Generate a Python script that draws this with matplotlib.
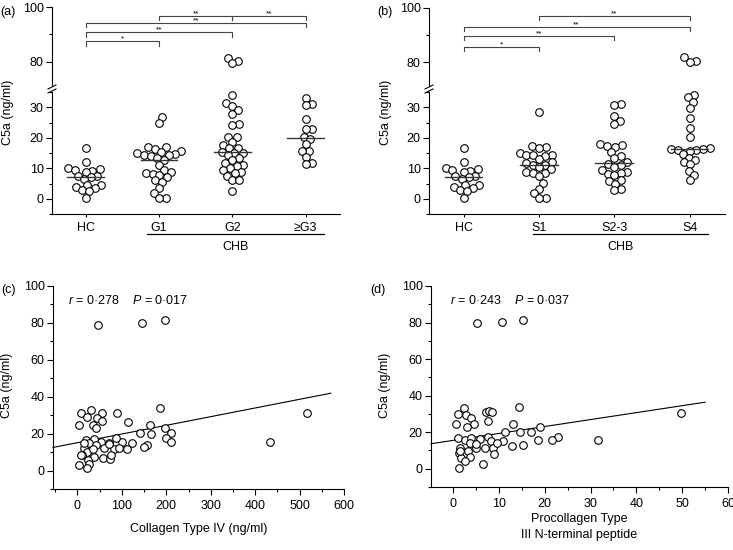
import numpy as np
import matplotlib
matplotlib.use('Agg')
import matplotlib.pyplot as plt
from matplotlib.lines import Line2D
from matplotlib.ticker import MultipleLocator

plt.rcParams['font.family'] = ['Liberation Sans', 'DejaVu Sans']
plt.rcParams['font.size'] = 9
plt.rcParams['mathtext.fontset'] = 'custom'
plt.rcParams['mathtext.it'] = 'Liberation Sans:italic'
plt.rcParams['mathtext.rm'] = 'Liberation Sans'

# ---- values ----
hc = [16.6, 12.2, 10.2, 9.6, 9.4, 9.2, 8.8, 7.6, 7.4, 7.0, 6.6, 4.6, 4.5,
      3.9, 3.5, 3.0, 2.4, 0.4]

grade_labels = ['HC', 'G1', 'G2', '≥G3']
g1 = [26.7, 24.7, 17.0, 17.0, 16.2, 15.7, 15.4, 14.9, 14.7, 14.4, 14.2, 14.1,
      13.5, 12.7, 11.1, 9.4, 8.9, 8.3, 8.2, 7.8, 7.2, 6.0, 5.6, 3.6, 1.9, 0.4, 0.3]
g2 = [81.4, 80.4, 79.4, 33.9, 31.4, 30.3, 29.2, 27.9, 24.4, 24.1, 20.3, 20.3,
      18.7, 17.6, 16.7, 16.5, 15.4, 14.9, 14.9, 14.3, 13.2, 12.7, 11.6, 11.1,
      10.6, 10.0, 9.4, 8.9, 8.3, 7.5, 6.2, 6.2, 2.7]
g3 = [33.0, 31.2, 30.6, 26.1, 23.0, 23.0, 20.3, 19.5, 17.9, 15.7, 15.7, 13.8,
      11.6, 11.4]

stage_labels = ['HC', 'S1', 'S2-3', 'S4']
s1 = [28.4, 17.4, 16.9, 16.8, 15.0, 14.5, 14.5, 14.2, 13.9, 13.0, 12.0, 11.8,
      11.2, 11.2, 10.5, 9.6, 8.8, 8.4, 8.3, 7.6, 5.2, 3.3, 1.8, 0.3, 0.3]
s23 = [31.1, 30.8, 27.0, 25.5, 24.4, 17.9, 17.5, 17.2, 17.0, 15.4, 14.1, 13.5,
       12.1, 11.5, 11.0, 10.4, 9.4, 8.9, 8.6, 8.0, 7.7, 6.0, 5.8, 5.0, 3.3, 2.8]
s4 = [81.7, 80.4, 80.1, 34.1, 33.3, 31.7, 29.7, 26.4, 23.1, 20.1, 16.5, 16.3,
      16.2, 16.0, 16.0, 15.8, 14.6, 13.5, 12.7, 11.9, 11.3, 9.1, 7.7, 6.1]

# (group a, group b, bracket height, stars)
grade_sig = [(1, 2, 96.7, '**'), (2, 3, 96.7, '**'), (0, 3, 94.1, '**'),
             (0, 2, 90.7, '**'), (0, 1, 87.4, '*')]
stage_sig = [(1, 3, 97.0, '**'), (0, 3, 93.0, '**'), (0, 2, 89.6, '**'),
             (0, 1, 85.6, '*')]

col4_x = [47, 145, 198, 185, 516, 433, 9, 30, 56, 88, 22, 45, 56, 114, 4, 34,
          41, 164, 141, 166, 196, 211, 200, 211, 157, 149, 111, 123, 101, 86,
          71, 52, 19, 37, 26, 41, 60, 82, 15, 22, 11, 37, 58, 73, 75, 24, 26,
          4, 21, 71, 93, 34, 7, 15]
col4_y = [79.1, 80.2, 81.4, 34.1, 31.0, 15.7, 31.4, 32.8, 31.0, 31.4, 29.2,
          28.3, 26.8, 26.1, 24.7, 24.7, 22.9, 24.7, 20.2, 19.8, 23.2, 20.5,
          17.5, 15.7, 13.9, 12.6, 11.5, 14.8, 15.7, 17.5, 15.1, 15.7, 16.6,
          17.1, 14.8, 13.9, 12.1, 11.5, 12.1, 10.3, 8.5, 7.6, 6.7, 6.3, 8.5,
          5.8, 3.4, 3.1, 1.3, 14.2, 12.4, 11.5, 8.5, 14.8]
col4_fit = (15.1, 0.047)   # intercept, slope

p3np_x = [5.2, 10.7, 15.3, 49.7, 31.7, 14.4, 2.3, 1.1, 2.9, 7.1, 7.9, 8.6,
          4.0, 7.7, 0.7, 4.5, 3.1, 13.1, 18.9, 17.1, 14.6, 11.3, 22.8, 21.7,
          18.6, 15.3, 12.8, 10.9, 7.7, 8.2, 5.8, 1.0, 2.6, 4.0, 3.6, 5.0, 6.9,
          8.7, 9.5, 1.5, 1.3, 3.3, 1.8, 3.6, 2.6, 6.6, 1.3, 8.9, 5.0, 1.5]
p3np_y = [79.5, 80.4, 81.5, 30.7, 15.7, 33.8, 33.1, 29.8, 29.4, 31.0, 31.6,
          31.0, 27.6, 26.1, 24.7, 24.7, 22.8, 24.3, 22.8, 20.1, 20.1, 20.1,
          17.5, 15.5, 15.7, 13.0, 12.4, 15.2, 17.4, 15.2, 16.1, 17.0, 15.9,
          16.6, 14.2, 11.5, 11.5, 11.5, 14.2, 11.5, 8.8, 9.7, 5.7, 6.4, 4.2,
          2.7, 0.5, 7.9, 13.7, 9.7]
p3np_fit = (15.5, 0.38)

W, H = 733, 550
fig = plt.figure(figsize=(W / 100, H / 100), dpi=100)


def px_rect(x0, y_top, x1, y_bot):
    return [x0 / W, 1 - y_bot / H, (x1 - x0) / W, (y_bot - y_top) / H]


def swarm(ax, x0, vals, d=6.8):
    # beeswarm layout in pixel space around category x0
    vals = np.asarray(vals, float)
    pts = ax.transData.transform(np.column_stack([np.full(len(vals), x0), vals]))
    xs = pts[:, 0].copy()
    placed = []
    for i in np.argsort(vals):
        cx, cy = pts[i]
        cands = [0.0]
        for px, py in placed:
            dy = cy - py
            if abs(dy) < d:
                dx = np.sqrt(d * d - dy * dy)
                cands += [px - cx + dx, px - cx - dx]
        cands.sort(key=abs)
        for c in cands:
            if all((cx + c - px) ** 2 + (cy - py) ** 2 >= d * d - 1e-6 for px, py in placed):
                break
        placed.append((cx + c, cy))
        xs[i] = cx + c
    return ax.transData.inverted().transform(np.column_stack([xs, pts[:, 1]]))[:, 0]


def dot_panel(x0, x1, up_top, groups, labels, sig, chb, tag, tag_x, ylab_x):
    ax_up = fig.add_axes(px_rect(x0, up_top, x1, 85))
    ax_lo = fig.add_axes(px_rect(x0, 92, x1, 214))
    for ax in (ax_up, ax_lo):
        ax.set_xlim(-0.46, 3.47)
        ax.spines[['top', 'right']].set_visible(False)
        for s in ax.spines.values():
            s.set_linewidth(0.8)
        ax.tick_params(direction='out', length=4, width=0.8, pad=2)
        ax.tick_params(which='minor', length=2.5, width=0.8)
    ax_up.set_ylim(71.5, 100)
    ax_up.spines['bottom'].set_visible(False)
    ax_up.set_xticks([])
    ax_up.yaxis.set_major_locator(MultipleLocator(20))
    ax_up.yaxis.set_minor_locator(MultipleLocator(10))
    ax_lo.set_ylim(-5, 35)
    ax_lo.yaxis.set_major_locator(MultipleLocator(10))
    ax_lo.yaxis.set_minor_locator(MultipleLocator(5))
    ax_lo.set_xticks(range(len(labels)))
    ax_lo.set_xticklabels(labels)
    ax_lo.tick_params(axis='x', length=2, pad=4)

    for i, vals in enumerate(groups):
        vals = np.asarray(vals)
        for ax, v in ((ax_up, vals[vals > 50]), (ax_lo, vals[vals <= 50])):
            if len(v):
                ax.scatter(swarm(ax, i, v), v, s=30, facecolor='white',
                           edgecolor='black', linewidth=0.8, zorder=3, clip_on=False)
        m = np.median(vals)
        ax_lo.plot([i - 0.25, i + 0.25], [m, m], color='#333333', lw=1, zorder=4)

    # significance brackets
    for a, b, y, star in sig:
        ax_up.plot([a, a, b, b], [y - 1.5, y, y, y - 1.5], color='#444444', lw=0.8,
                   clip_on=False)
        ax_up.text((a + b) / 2, y + 0.9, star, ha='center', va='center',
                   fontsize=6)

    # axis break marks
    xb = x0
    for yb in (87, 91):
        fig.add_artist(Line2D([(xb - 4) / W, (xb + 4) / W],
                              [1 - (yb + 2) / H, 1 - (yb - 2) / H],
                              color='black', lw=0.8))

    # CHB underline
    ax_lo.plot(chb, [-11.7, -11.7], color='black', lw=0.9, clip_on=False)
    ax_lo.text(np.mean(chb), -15.8, 'CHB', ha='center', va='center')

    fig.text(tag_x / W, 1 - 12 / H, tag, ha='center', va='center', fontsize=9)
    fig.text(ylab_x / W, 1 - 112 / H, 'C5a (ng/ml)', rotation=90,
             ha='center', va='center')


def corr_panel(x0, x1, y_bot, xs, ys, fit, fit_x, xlim, xmaj, xmin, xlabel,
               stats, tag, tag_x, ylab_x, stats_x, lpad):
    ax = fig.add_axes(px_rect(x0, 286, x1, y_bot))
    ax.spines[['top', 'right']].set_visible(False)
    for s in ax.spines.values():
        s.set_linewidth(0.8)
    ax.set_xlim(*xlim)
    ax.set_ylim(-10, 100)
    ax.xaxis.set_major_locator(MultipleLocator(xmaj))
    ax.xaxis.set_minor_locator(MultipleLocator(xmin))
    ax.yaxis.set_major_locator(MultipleLocator(20))
    ax.yaxis.set_minor_locator(MultipleLocator(10))
    ax.tick_params(direction='out', length=4, width=0.8, pad=2)
    ax.tick_params(which='minor', length=2.5, width=0.8)
    ax.tick_params(axis='x', pad=4)
    ax.scatter(xs, ys, s=30, facecolor='white', edgecolor='black',
               linewidth=0.8, zorder=3, clip_on=False)
    fx = np.array(fit_x)
    ax.plot(fx, fit[0] + fit[1] * fx, color='black', lw=0.8, zorder=2, clip_on=False)
    ax.set_xlabel(xlabel, labelpad=lpad, linespacing=1.5)
    ax.text(stats_x, 0.93, stats, transform=ax.transAxes, ha='left', va='center')
    fig.text(tag_x / W, 1 - 290 / H, tag, ha='center', va='center', fontsize=9)
    fig.text(ylab_x / W, 1 - 385 / H, 'C5a (ng/ml)', rotation=90,
             ha='center', va='center')
    return ax


dot_panel(52, 340, 7, [hc, g1, g2, g3], grade_labels, grade_sig,
          [0.84, 3.25], '(a)', 8, 8)
dot_panel(429, 725, 8, [hc, s1, s23, s4], stage_labels, stage_sig,
          [0.92, 3.25], '(b)', 385, 386)

corr_panel(53, 344, 489, col4_x, col4_y, col4_fit, [-55, 570], (-55, 600),
           100, 50, 'Collagen Type IV (ng/ml)',
           r'$r$ = 0·278    $P$ = 0·017', '(c)', 9, 7, 0.05, 8)
corr_panel(431, 728, 487, p3np_x, p3np_y, p3np_fit, [-4.8, 55], (-4.8, 60),
           10, 5, 'Procollagen Type\nIII N-terminal peptide',
           r'$r$ = 0·243    $P$ = 0·037', '(d)', 378, 385, 0.065, 2)

fig.savefig('out.png', dpi=100)
